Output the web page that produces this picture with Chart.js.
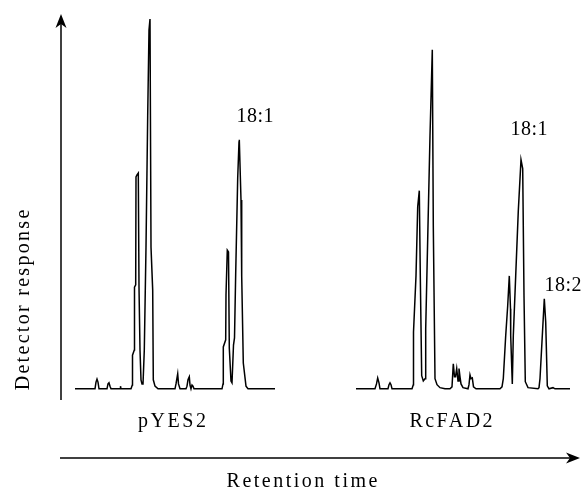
<!DOCTYPE html>
<html>
<head>
<meta charset="utf-8">
<script src="https://cdn.jsdelivr.net/npm/chart.js@4/dist/chart.umd.min.js"></script>
<style>
  html, body { margin: 0; padding: 0; background: #ffffff; }
  canvas { display: block; }
</style>
</head>
<body>
<canvas id="myChart" width="584" height="491"></canvas>
<script>
// Chromatogram traces (x = retention time, y = response)
var pyesTime = [1.5, 3.5, 3.6, 3.7, 3.8, 3.9, 4.7, 4.8, 4.9, 5.0, 5.1, 6.0, 6.05, 6.1,
  7.1, 7.23, 7.25, 7.43, 7.45, 7.57, 7.6, 7.7, 7.83, 7.9, 8.0, 8.1, 8.2,
  8.3, 8.43, 8.6, 8.77, 8.9, 9.0, 9.1, 9.27, 9.33, 9.5, 9.8,
  11.5, 11.6, 11.77, 11.85, 12.0, 12.6, 12.7, 12.8, 12.93, 13.0, 13.1, 13.2, 13.3, 13.4,
  16.2, 16.3, 16.33, 16.57, 16.6, 16.73, 16.85, 16.93, 17.1, 17.2, 17.35, 17.45, 17.57,
  17.77, 17.9, 17.93, 18.1, 18.17, 18.33, 18.6, 18.8, 21.5];
var pyesResponse = [0, 0, 1.8, 2.6, 1.8, 0, 0, 1.3, 1.6, 0.7, 0, 0, 0.7, 0,
  0, 1.0, 9.0, 10.4, 27.2, 27.8, 56.7, 57.2, 57.7, 27.2, 10.4, 2.4, 1.3,
  1.3, 10.4, 37.9, 73.2, 96.0, 98.9, 37.9, 26.4, 2.4, 0.7, 0,
  0, 1.3, 4.0, 1.3, 0, 0, 0.7, 2.4, 3.2, 1.0, 0, 1.0, 0.7, 0,
  0, 1.3, 11.2, 13.1, 25.1, 37.1, 36.6, 10.9, 2.1, 1.6, 11.7, 13.6, 31.0,
  56.4, 66.0, 66.6, 50.5, 30.2, 6.9, 0.7, 0, 0];

var fadTime = [29.6, 31.5, 31.65, 31.77, 31.9, 32.0, 32.8, 32.9, 33.0, 33.1, 33.2,
  35.2, 35.33, 35.35, 35.6, 35.77, 35.85, 35.93, 36.03, 36.17, 36.33, 36.5,
  36.57, 36.77, 37.0, 37.23, 37.33, 37.5, 37.7, 38.0, 38.5,
  39.0, 39.2, 39.33, 39.45, 39.55, 39.67, 39.8, 39.9, 40.0, 40.1, 40.3,
  40.8, 40.9, 41.0, 41.1, 41.23, 41.35, 41.6,
  44.0, 44.2, 44.33, 44.57, 44.77, 44.93, 45.05, 45.07, 45.23, 45.33, 45.57,
  45.83, 46.1, 46.27, 46.4, 46.53, 46.8, 47.8,
  47.9, 48.0, 48.23, 48.43, 48.57, 48.73, 48.9, 49.3, 49.5, 51.0];
var fadResponse = [0, 0, 1.3, 2.9, 1.6, 0, 0, 1.1, 1.6, 1.1, 0,
  0, 1.1, 15.2, 30.2, 48.7, 50.8, 53.0, 30.2, 3.5, 2.1, 2.7,
  16.1, 40.1, 67.7, 90.7, 43.6, 2.7, 1.1, 0.3, 0,
  0, 0.5, 6.7, 3.2, 3.2, 5.4, 2.1, 5.4, 3.2, 1.3, 0.3,
  0, 1.1, 3.7, 2.7, 2.9, 0.5, 0,
  0, 0.5, 2.7, 14.2, 22.2, 30.2, 21.4, 14.2, 1.3, 14.2, 30.2,
  47.6, 61.3, 58.9, 24.9, 1.9, 0.3, 0,
  0.3, 2.7, 14.2, 24.1, 17.9, 0.8, 0, 0.3, 0, 0];

// peak labels
var peakNames = ["18:1", "18:1", "18:2"];
var peakTime = [19.5, 46.9, 50.3];
var peakLabelY = [72.7, 69.2, 27.5];

// sample names under each trace
var sampleNames = ["pYES2", "RcFAD2"];
var sampleTime = [11.2, 39.1];

function toPoints(xs, ys) {
  var pts = [];
  for (var i = 0; i < xs.length; i++) pts.push({ x: xs[i], y: ys[i] });
  return pts;
}

var FONT = "20px 'Liberation Serif', 'DejaVu Serif', serif";

// draw text centred, with extra letter spacing like the scanned figure
function spacedText(ctx, text, x, y, spacing) {
  ctx.letterSpacing = spacing + "px";
  ctx.fillText(text, x + spacing / 2, y);
  ctx.letterSpacing = "0px";
}

var axesPlugin = {
  id: "axesPlugin",
  afterDraw: function (chart) {
    var ctx = chart.ctx;
    var area = chart.chartArea;
    var xs = chart.scales.x;
    var ys = chart.scales.y;
    ctx.save();
    ctx.strokeStyle = "#000";
    ctx.fillStyle = "#000";
    ctx.lineWidth = 1.5;

    // y axis with arrow
    var ax = area.left + 1;
    ctx.beginPath();
    ctx.moveTo(ax, area.bottom);
    ctx.lineTo(ax, area.top + 6);
    ctx.stroke();
    ctx.beginPath();
    ctx.moveTo(ax, area.top - 1);
    ctx.lineTo(ax - 5.5, area.top + 13);
    ctx.lineTo(ax, area.top + 9);
    ctx.lineTo(ax + 5.5, area.top + 13);
    ctx.closePath();
    ctx.fill();

    // x axis arrow below the sample names
    var ay = area.bottom + 58;
    ctx.beginPath();
    ctx.moveTo(area.left, ay);
    ctx.lineTo(area.right - 6, ay);
    ctx.stroke();
    ctx.beginPath();
    ctx.moveTo(area.right, ay);
    ctx.lineTo(area.right - 14, ay - 5.5);
    ctx.lineTo(area.right - 10, ay);
    ctx.lineTo(area.right - 14, ay + 5.5);
    ctx.closePath();
    ctx.fill();

    ctx.font = FONT;
    ctx.textAlign = "center";
    ctx.textBaseline = "middle";

    // sample names
    for (var i = 0; i < sampleNames.length; i++) {
      spacedText(ctx, sampleNames[i], xs.getPixelForValue(sampleTime[i]), area.bottom + 22, 2.5);
    }
    // peak labels
    for (var j = 0; j < peakNames.length; j++) {
      spacedText(ctx, peakNames[j], xs.getPixelForValue(peakTime[j]), ys.getPixelForValue(peakLabelY[j]), 0.5);
    }

    // axis titles
    spacedText(ctx, "Retention time", 302, area.bottom + 82, 2.5);
    ctx.translate(24, 300);
    ctx.rotate(-Math.PI / 2);
    spacedText(ctx, "Detector response", 0, 0, 2.3);
    ctx.restore();
  }
};

var ctx = document.getElementById("myChart").getContext("2d");
var myChart = new Chart(ctx, {
  type: "line",
  data: {
    datasets: [
      {
        label: "pYES2",
        data: toPoints(pyesTime, pyesResponse),
        borderColor: "#000000",
        borderWidth: 1.5,
        pointRadius: 0,
        tension: 0,
        fill: false,
      },
      {
        label: "RcFAD2",
        data: toPoints(fadTime, fadResponse),
        borderColor: "#000000",
        borderWidth: 1.5,
        pointRadius: 0,
        tension: 0,
        fill: false,
      },
    ],
  },
  options: {
    responsive: false,
    animation: false,
    devicePixelRatio: 1,
    layout: {
      padding: { left: 60, right: 4, top: 15, bottom: 91 },
    },
    plugins: {
      legend: { display: false },
      tooltip: { enabled: false },
    },
    scales: {
      x: { type: "linear", min: 0, max: 52, display: false },
      y: { min: -3, max: 100, display: false },
    },
  },
  plugins: [axesPlugin],
});
</script>
</body>
</html>
